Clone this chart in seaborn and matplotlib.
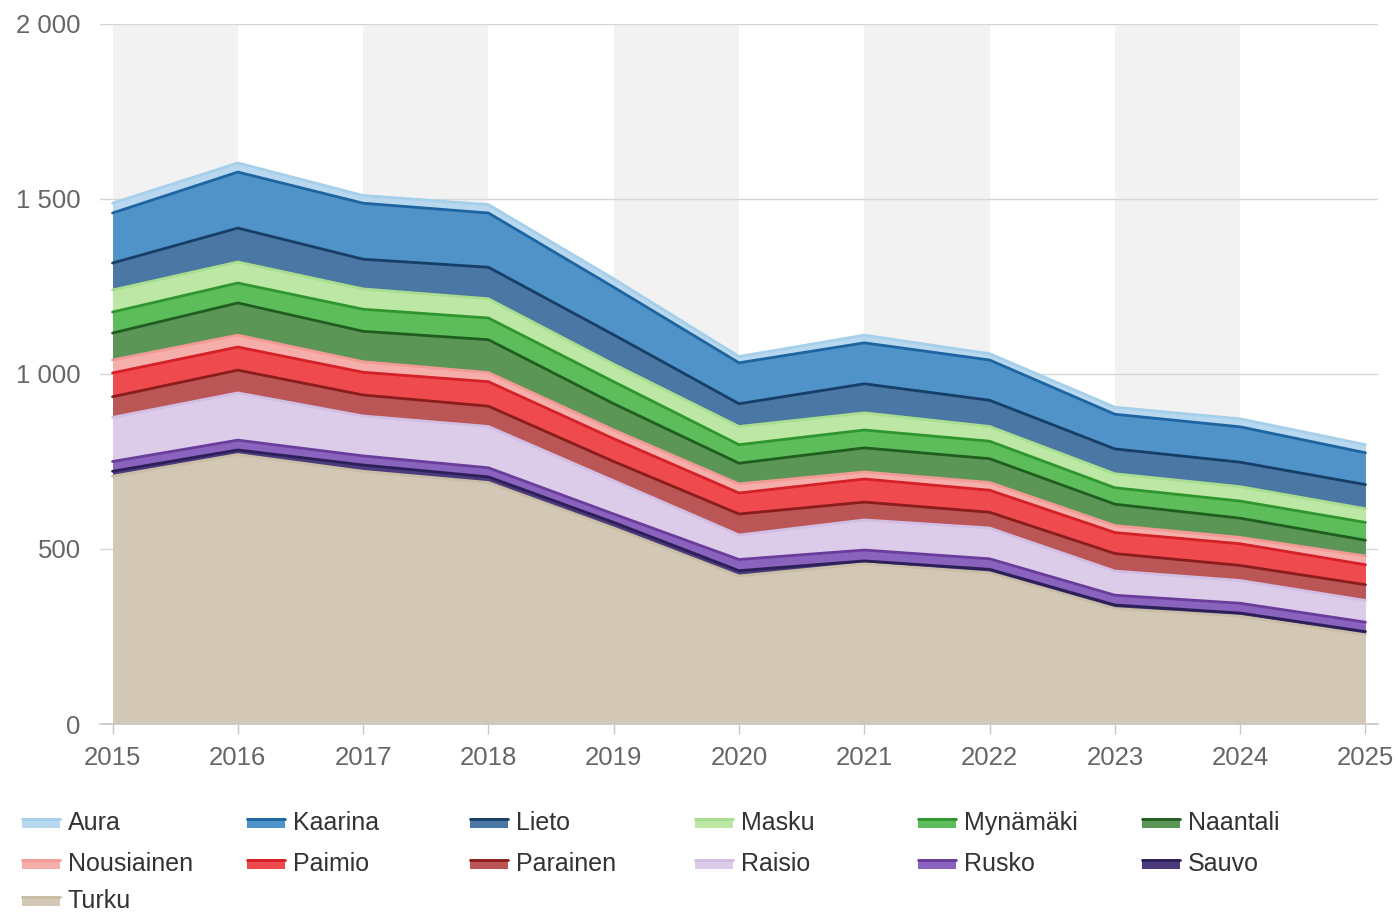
import matplotlib
matplotlib.use("Agg")
import matplotlib.pyplot as plt
from matplotlib.patches import Rectangle
from matplotlib.lines import Line2D
from matplotlib.ticker import FuncFormatter
import numpy as np
import pandas as pd
import seaborn as sns

years = [2015, 2016, 2017, 2018, 2019, 2020, 2021, 2022, 2023, 2024, 2025]

# bottom -> top stacking order
turku = [708, 770, 722, 690, 560, 423, 458, 432, 330, 308, 255]
sauvo = [14, 13, 18, 16, 16, 15, 8, 10, 10, 9, 9]
rusko = [28, 28, 26, 26, 24, 32, 31, 30, 28, 28, 27]
raisio = [126, 135, 114, 118, 95, 70, 86, 88, 69, 65, 62]
parainen = [59, 65, 60, 58, 55, 60, 51, 45, 50, 43, 45]
paimio = [68, 66, 65, 70, 65, 60, 66, 63, 60, 62, 57]
nousiainen = [37, 34, 30, 26, 25, 26, 20, 22, 20, 18, 25]
naantali = [77, 92, 87, 94, 75, 59, 69, 68, 61, 55, 45]
mynamaki = [60, 57, 63, 62, 63, 53, 51, 50, 47, 49, 51]
masku = [63, 60, 58, 55, 50, 52, 49, 42, 40, 41, 39]
lieto = [77, 97, 85, 90, 84, 65, 83, 75, 71, 70, 69]
kaarina = [143, 160, 160, 155, 136, 117, 117, 115, 99, 101, 91]
aura = [28, 26, 22, 24, 24, 18, 22, 18, 20, 23, 23]

names = ["Turku", "Sauvo", "Rusko", "Raisio", "Parainen", "Paimio", "Nousiainen",
         "Naantali", "Mynämäki", "Masku", "Lieto", "Kaarina", "Aura"]
series = [turku, sauvo, rusko, raisio, parainen, paimio, nousiainen,
          naantali, mynamaki, masku, lieto, kaarina, aura]

fill_colors = ["#d3c8b6", "#4b3a7c", "#8a63be", "#ddcbea", "#bb5656", "#ef4a4d",
               "#f6aeaa", "#5c9657", "#5dbd5a", "#bde7a5", "#4a77a3", "#4f93c9", "#b7d8ee"]
line_colors = ["#cabda6", "#2c1f58", "#6a3d9a", "#d2bde3", "#8b1c1c", "#d42027",
               "#f29a96", "#1f5e1f", "#2f962f", "#a9dd8f", "#163e66", "#1d64a0", "#a6cfea"]

legend_order = ["Aura", "Kaarina", "Lieto", "Masku", "Mynämäki", "Naantali",
                "Nousiainen", "Paimio", "Parainen", "Raisio", "Rusko", "Sauvo", "Turku"]

sns.set_theme(style="white")
plt.rcParams["font.family"] = ["Liberation Sans", "DejaVu Sans"]

W, H = 1398, 916
fig = plt.figure(figsize=(W / 100, H / 100), dpi=100)
ax = fig.add_axes([100 / W, 1 - 724 / H, 1278 / W, 700 / H])

# alternating background bands
for i in range(0, len(years) - 1, 2):
    ax.axvspan(years[i], years[i + 1], color="#f2f2f2", zorder=0, lw=0)

for v in [500, 1000, 1500, 2000]:
    ax.axhline(v, color="#d6d6d6", lw=1, zorder=1)

ax.stackplot(years, *series, colors=fill_colors, lw=0, zorder=2)

cum = np.cumsum(np.array(series), axis=0)
long = pd.DataFrame({
    "year": np.tile(years, len(names)),
    "value": cum.flatten(),
    "kunta": np.repeat(names, len(years)),
})
sns.lineplot(data=long, x="year", y="value", hue="kunta", hue_order=names,
             palette=dict(zip(names, line_colors)), lw=2, legend=False, ax=ax, zorder=3)

ax.set_xlim(2014.9, 2025.1)
ax.set_ylim(0, 2000)
ax.set_xticks(years)
ax.set_yticks([0, 500, 1000, 1500, 2000])
ax.yaxis.set_major_formatter(FuncFormatter(lambda v, p: f"{int(v):,}".replace(",", " ")))
ax.set_xlabel("")
ax.set_ylabel("")
for s in ["top", "right", "left"]:
    ax.spines[s].set_visible(False)
ax.spines["bottom"].set_color("#c8c8c8")
ax.spines["bottom"].set_zorder(5)
ax.tick_params(axis="x", length=7, width=1, color="#c8c8c8", pad=9,
               labelsize=18.5, labelcolor="#666666", bottom=True)
ax.tick_params(axis="y", length=0, pad=14, labelsize=18.5, labelcolor="#666666")

# legend, drawn row by row in 6 equal columns
col_x = [22, 247, 470, 695, 918, 1142]
row_y = [823, 864, 901]
for k, name in enumerate(legend_order):
    j = names.index(name)
    x0 = col_x[k % 6]
    y0 = row_y[k // 6]
    fig.add_artist(Rectangle((x0 / W, 1 - (y0 + 5) / H), 38 / W, 10 / H,
                             transform=fig.transFigure, color=fill_colors[j], lw=0))
    fig.add_artist(Line2D([x0 / W, (x0 + 38) / W], [1 - (y0 - 4) / H] * 2,
                          transform=fig.transFigure, color=line_colors[j], lw=2))
    fig.text((x0 + 46) / W, 1 - y0 / H, name, fontsize=18, color="#333333",
             va="center", ha="left")

fig.savefig("out.png", dpi=100)
